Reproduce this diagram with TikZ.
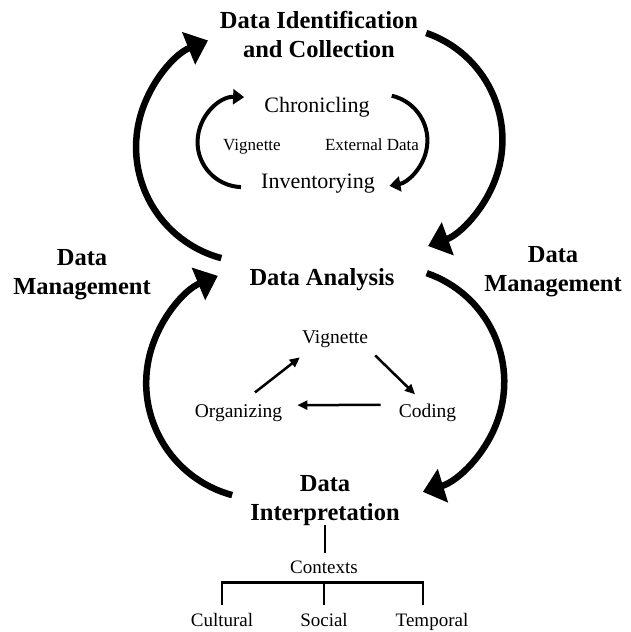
\documentclass[tikz,border=0pt]{standalone}
\usepackage{fontspec}
\setmainfont{Liberation Serif}
\usetikzlibrary{arrows.meta}

\begin{document}
\begin{tikzpicture}[
  x=1pt, y=1pt,
  stage/.style={font=\fontsize{24.5}{29}\selectfont\bfseries,align=center,
    inner sep=0pt,anchor=base},
  phase/.style={font=\fontsize{22}{26}\selectfont,inner sep=0pt,anchor=base},
  source/.style={font=\fontsize{17}{20}\selectfont,inner sep=0pt,anchor=base},
  task/.style={font=\fontsize{19.5}{23}\selectfont,inner sep=0pt,anchor=base},
  context/.style={font=\fontsize{19}{22}\selectfont,inner sep=0pt,anchor=base},
  bigarrow/.style={line width=6.5pt,-{Triangle[length=21pt,width=34pt]}},
  cyclearrow/.style={line width=4pt,-{Triangle[length=11pt,width=15pt]}},
  thinarrow/.style={line width=2.5pt,-{Triangle[length=10pt,width=9pt]}},
  branch/.style={line width=2.5pt}
]
\useasboundingbox (0,0) rectangle (630,-632);

% stages (base = last line)
\node[stage] (idc) at (319,-57) {Data Identification\\and Collection};
\node[stage] (ana) at (322,-285) {Data Analysis};
\node[stage] (dip) at (325,-520) {Data\\Interpretation};
\node[stage] (dml) at (82,-294) {Data\\Management};
\node[stage] (dmr) at (553,-291) {Data\\Management};

% collection cycle
\node[phase] (chr) at (317,-112) {Chronicling};
\node[source] (vig1) at (252,-150) {Vignette};
\node[source] (ext) at (372,-150) {External Data};
\node[phase] (inv) at (318,-188) {Inventorying};

% analysis triangle
\node[task] (vig2) at (335,-343) {Vignette};
\node[task] (org) at (238.5,-417) {Organizing};
\node[task] (cod) at (427.5,-417) {Coding};

% contexts
\node[context] (ctx) at (324,-573) {Contexts};
\node[context] (cul) at (222,-626) {Cultural};
\node[context] (soc) at (324,-626) {Social};
\node[context] (tmp) at (432,-626) {Temporal};

% management loops
\draw[bigarrow] ([shift={(-28pt,21pt)}]ana.west) arc[start angle=255,end angle=112,radius=115pt];
\draw[bigarrow] ([shift={(8pt,1pt)}]idc.east) arc[start angle=71,end angle=-70,radius=113pt];
\draw[bigarrow] ([shift={(-18pt,5pt)}]dip.west) arc[start angle=255,end angle=112.5,radius=116pt];
\draw[bigarrow] ([shift={(32pt,6pt)}]ana.east) arc[start angle=71,end angle=-73,radius=115pt];

\draw[cyclearrow] ([shift={(-20pt,-4pt)}]inv.west) arc[start angle=268,end angle=88,radius=45pt];
\draw[cyclearrow] ([shift={(22pt,11pt)}]chr.east) arc[start angle=77,end angle=-80,radius=46pt];

\draw[thinarrow] ([shift={(16.5pt,11.5pt)}]org.north) -- ([shift={(-2pt,-10pt)}]vig2.south west);
\draw[thinarrow] ([shift={(7pt,-8pt)}]vig2.south east) -- ([shift={(-12.5pt,9pt)}]cod.north);
\draw[thinarrow] ([shift={(-18pt,7.5pt)}]cod.west) -- ([shift={(15pt,7.5pt)}]org.east);

\draw[branch,shorten >=7pt] (dip.south) -- (dip.south |- ctx.north);
\coordinate (fork) at ([yshift=-9pt]ctx.south);
\draw[branch] ([yshift=8pt]cul.north) |- (fork) -| ([shift={(-9pt,8pt)}]tmp.north);
\draw[branch] (fork) -- ([yshift=8pt]soc.north);
\end{tikzpicture}
\end{document}
